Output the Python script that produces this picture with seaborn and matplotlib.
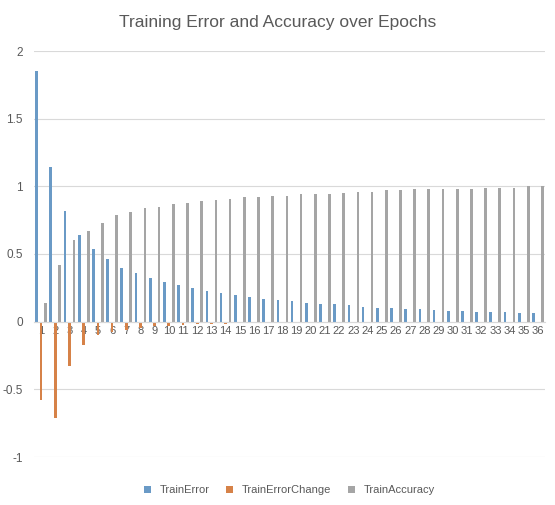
import matplotlib
matplotlib.use('Agg')
import matplotlib.pyplot as plt
import seaborn as sns
import pandas as pd

epochs = list(range(1, 37))
train_error = [1.85, 1.14, 0.82, 0.64, 0.54, 0.46, 0.40, 0.36, 0.32, 0.29, 0.27, 0.25,
               0.23, 0.21, 0.20, 0.18, 0.17, 0.16, 0.15, 0.14, 0.13, 0.13, 0.12, 0.11,
               0.10, 0.10, 0.095, 0.09, 0.085, 0.08, 0.08, 0.075, 0.07, 0.07, 0.065, 0.065]
train_error_change = [-0.58, -0.71, -0.33, -0.17, -0.10, -0.08, -0.06, -0.045, -0.035, -0.03,
                      -0.025, -0.02, -0.02, -0.02, -0.012, -0.012, -0.01, -0.01, -0.012, -0.01,
                      -0.008, -0.006, -0.006, -0.005, -0.005, -0.004, -0.004, -0.004, -0.003,
                      -0.003, -0.003, -0.003, -0.002, -0.002, -0.002, -0.002]
train_accuracy = [0.14, 0.42, 0.60, 0.67, 0.73, 0.79, 0.81, 0.84, 0.85, 0.87, 0.88, 0.89,
                  0.90, 0.91, 0.92, 0.92, 0.93, 0.93, 0.94, 0.94, 0.94, 0.95, 0.96, 0.96,
                  0.97, 0.97, 0.98, 0.98, 0.98, 0.98, 0.98, 0.99, 0.99, 0.99, 1.0, 1.0]

series = ["TrainError", "TrainErrorChange", "TrainAccuracy"]
df = pd.DataFrame({
    "Epoch": epochs * 3,
    "Value": train_error + train_error_change + train_accuracy,
    "Series": [s for s in series for _ in epochs],
})

plt.rcParams['font.family'] = ['Liberation Sans', 'DejaVu Sans']

fig = plt.figure(figsize=(5.55, 5.05), dpi=100)
ax = fig.add_axes([34 / 555, 48 / 505, 511 / 555, 406 / 505])
sns.barplot(data=df, x="Epoch", y="Value", hue="Series", hue_order=series,
            palette=["#5b9bd5", "#ed7d31", "#a5a5a5"], width=0.95, gap=0.4,
            linewidth=0, ax=ax, legend=True)

ax.set_ylim(-1, 2)
ax.set_yticks([-1, -0.5, 0, 0.5, 1, 1.5, 2])
ax.set_yticklabels(["-1", "-0.5", "0", "0.5", "1", "1.5", "2"])
ax.grid(axis="y", color="#d9d9d9", linewidth=0.8)
ax.set_axisbelow(True)
for s in ["top", "right", "left"]:
    ax.spines[s].set_visible(False)
ax.spines["bottom"].set_position(("data", 0))
ax.spines["bottom"].set_color("#d9d9d9")
ax.tick_params(axis="both", length=0, labelsize=8.5, colors="#595959")
ax.tick_params(axis="x", pad=3, labelsize=8)
ax.tick_params(axis="y", pad=8)
ax.set_xlabel("")
ax.set_ylabel("")
ax.set_xlim(-0.5, 35.5)

ax.legend(loc="upper center", bbox_to_anchor=(0.5, -0.045), ncol=3, frameon=False,
          fontsize=8, handlelength=0.6, handleheight=0.6, columnspacing=1.5,
          labelcolor="#595959")
fig.text(0.5, 0.955, "Training Error and Accuracy over Epochs", ha="center",
         va="center", fontsize=12.5, color="#595959")
fig.savefig("out.png", dpi=100)
